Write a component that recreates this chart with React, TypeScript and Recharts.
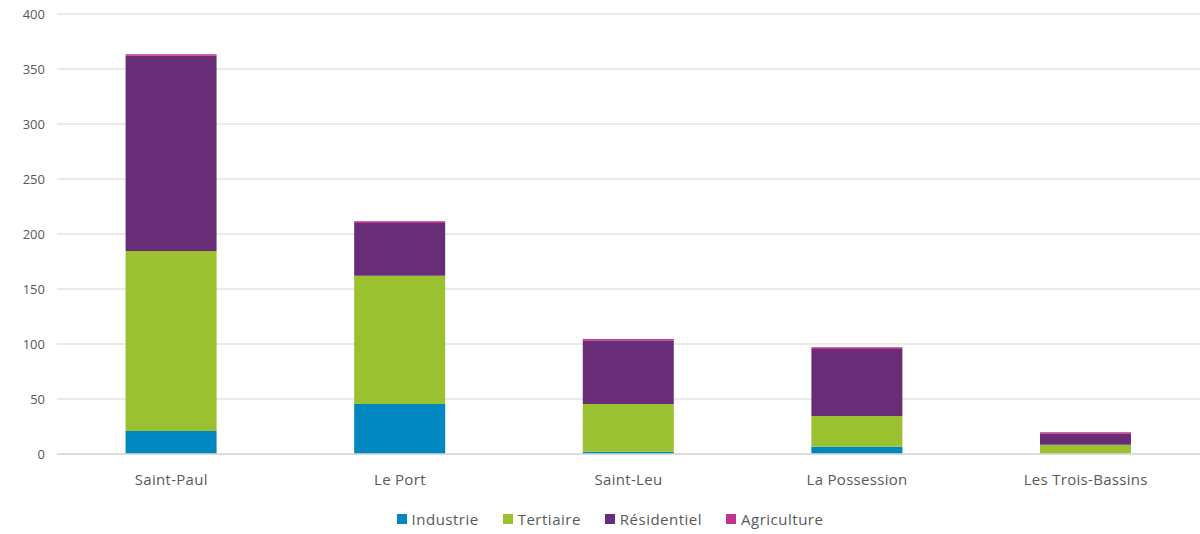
import React from 'react';
import { BarChart, Bar, XAxis, YAxis, CartesianGrid, Legend } from 'recharts';

const communes = ['Saint-Paul', 'Le Port', 'Saint-Leu', 'La Possession', 'Les Trois-Bassins'];
const industrie = [21, 45.5, 2, 6.5, 0.3];
const tertiaire = [163.5, 116.5, 43.5, 28, 8];
const residentiel = [177.5, 48, 57.5, 61, 10];
const agriculture = [1.5, 1.5, 1.5, 1.5, 1.5];
const yTicks = [0, 50, 100, 150, 200, 250, 300, 350, 400];

const series = [
  { key: 'Industrie', color: '#0087c0' },
  { key: 'Tertiaire', color: '#9bc130' },
  { key: 'Résidentiel', color: '#672d77' },
  { key: 'Agriculture', color: '#c0338e' },
];

const data = communes.map((name, i) => ({
  name,
  Industrie: industrie[i],
  Tertiaire: tertiaire[i],
  Résidentiel: residentiel[i],
  Agriculture: agriculture[i],
}));

const font = '"Open Sans", sans-serif';
const yTickStyle = { fill: '#595959', fontSize: 13, fontFamily: font };
const xTickStyle = { fill: '#595959', fontSize: 15, fontFamily: font, letterSpacing: 0.3 };

function LegendContent() {
  return (
    <div style={{ display: 'flex', justifyContent: 'center', alignItems: 'center', height: 20, fontFamily: font, fontSize: 15, letterSpacing: 0.5, color: '#595959', paddingLeft: 20 }}>
      {series.map((s) => (
        <div key={s.key} style={{ display: 'flex', alignItems: 'center', margin: '0 12px' }}>
          <span style={{ display: 'inline-block', width: 10, height: 10, background: s.color, marginRight: 5 }} />
          <span>{s.key}</span>
        </div>
      ))}
    </div>
  );
}

export default function App() {
  return (
    <div style={{ position: 'absolute', left: 0, top: 0, background: '#fff' }}>
      <BarChart
        width={1200}
        height={534}
        data={data}
        margin={{ top: 14, right: 0, bottom: 0, left: 0 }}
        barCategoryGap="30%"
      >
        <CartesianGrid vertical={false} stroke="#e3e3e3" strokeWidth={1.5} />
        <XAxis
          dataKey="name"
          height={42}
          tick={xTickStyle}
          tickLine={false}
          axisLine={{ stroke: '#d9d9d9', strokeWidth: 1.5 }}
          tickMargin={14}
          interval={0}
        />
        <YAxis
          width={57}
          domain={[0, 400]}
          ticks={yTicks}
          tick={yTickStyle}
          tickLine={false}
          axisLine={false}
          tickSize={0}
          tickMargin={12}
        />
        <Legend verticalAlign="bottom" height={38} content={<LegendContent />} wrapperStyle={{ top: 509, bottom: 'auto' }} />
        {series.map((s) => (
          <Bar key={s.key} dataKey={s.key} stackId="a" fill={s.color} isAnimationActive={false} />
        ))}
      </BarChart>
    </div>
  );
}
